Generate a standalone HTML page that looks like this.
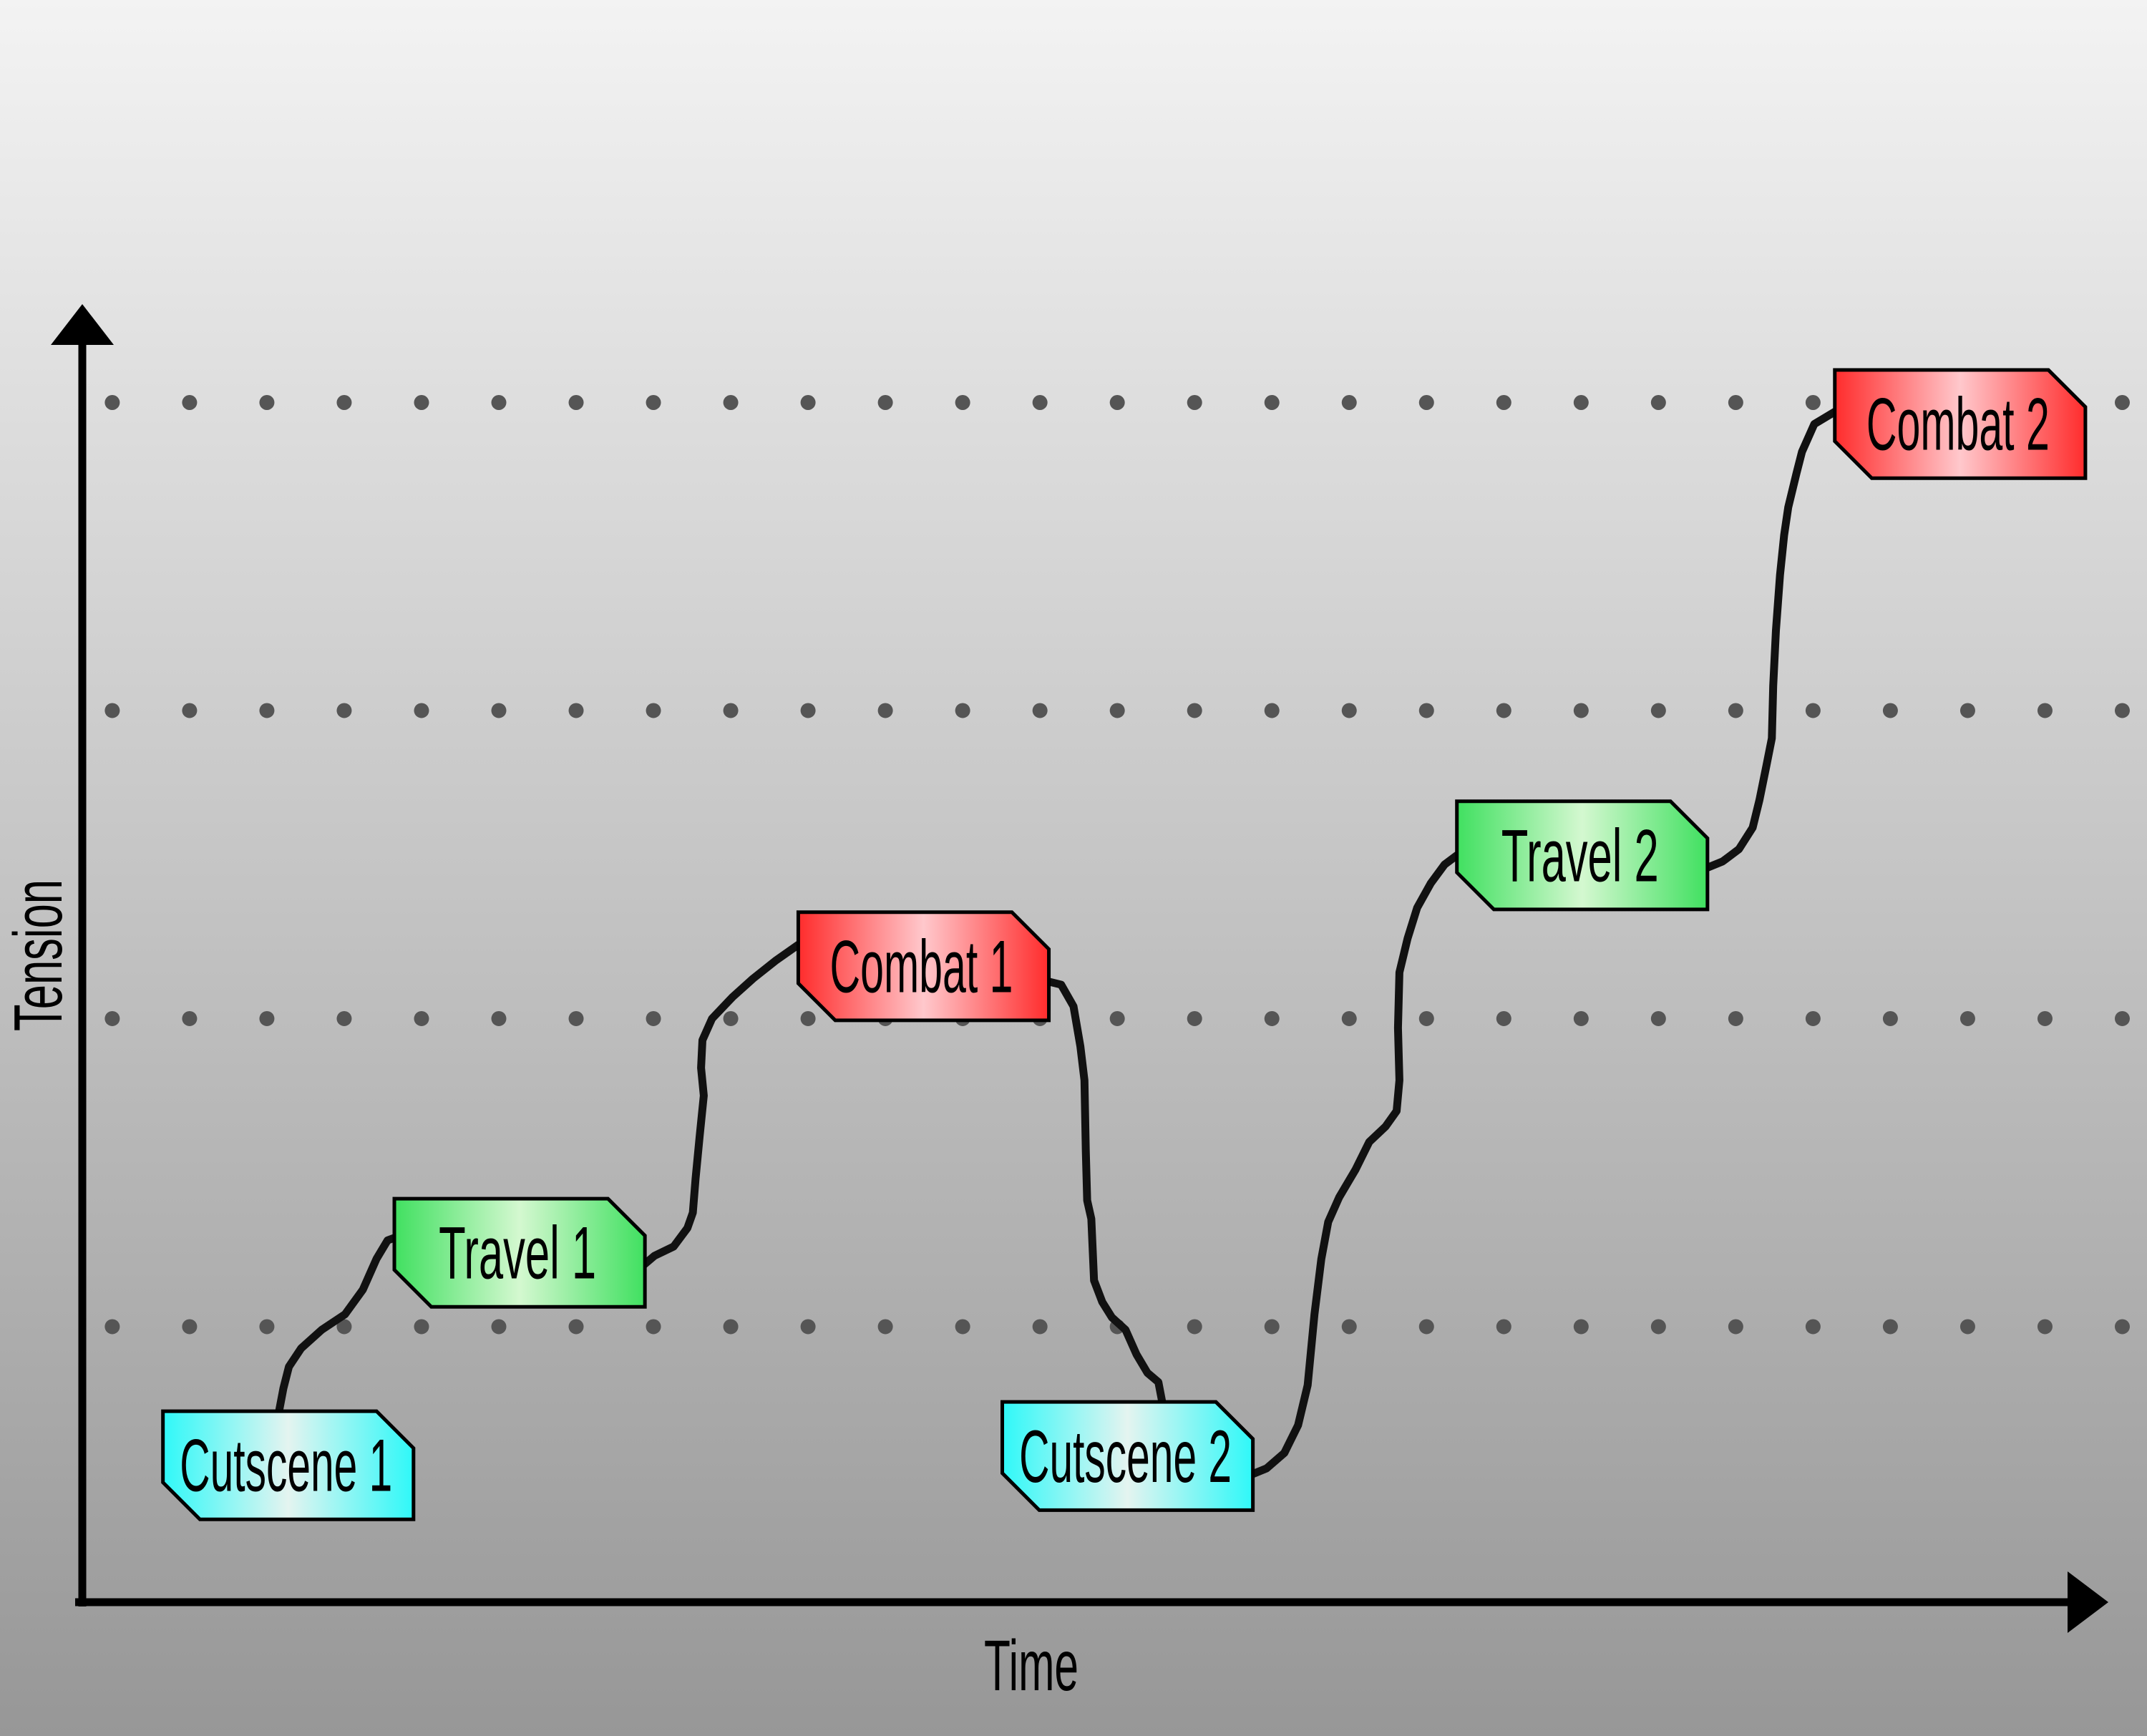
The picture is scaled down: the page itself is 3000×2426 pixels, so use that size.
<!DOCTYPE html>
<html><head><meta charset="utf-8"><style>
html,body{margin:0;padding:0;}
body{width:3000px;height:2426px;background:linear-gradient(#f3f3f3,#979797);overflow:hidden;}
svg{display:block;}
text{font-family:"Liberation Sans Narrow","Liberation Sans",sans-serif;}
</style></head><body>
<svg id="chart" width="3000" height="2426" viewBox="0 0 3000 2426">
<defs>
<linearGradient id="gc" x1="0" x2="1"><stop offset="0" stop-color="#2ff8f8"/><stop offset="0.5" stop-color="#e4f4f0"/><stop offset="1" stop-color="#2ff8f8"/></linearGradient>
<linearGradient id="gt" x1="0" x2="1"><stop offset="0" stop-color="#40e060"/><stop offset="0.5" stop-color="#d4f8d0"/><stop offset="1" stop-color="#40e060"/></linearGradient>
<linearGradient id="gr" x1="0" x2="1"><stop offset="0" stop-color="#ff2c2c"/><stop offset="0.5" stop-color="#ffc8cc"/><stop offset="1" stop-color="#ff2c2c"/></linearGradient>
</defs>
<g id="grid"></g>
<g id="curve"></g>
<g id="stages"></g>
<g>
<line x1="115" y1="470" x2="115" y2="2245" stroke="#000" stroke-width="11"/>
<polygon points="115,425 71,482 159,482" fill="#000"/>
<line x1="105" y1="2239" x2="2895" y2="2239" stroke="#000" stroke-width="11"/>
<polygon points="2946,2239 2889,2196 2889,2282" fill="#000"/>
</g>
<text x="1441" y="2362" font-size="100" text-anchor="middle" textLength="132" lengthAdjust="spacingAndGlyphs">Time</text>
<text transform="translate(86,1335) rotate(-90)" font-size="96" text-anchor="middle" textLength="212" lengthAdjust="spacingAndGlyphs">Tension</text>
</svg>
<script>
// Grid levels (tension units)
const gridLevels = [1, 2, 3, 4];
// Curve segments: time and tension values
const seg1Time = [144,147,151,160,175,192,205,215,223,229];
const seg1Tension = [0.73,0.80,0.87,0.93,0.99,1.04,1.12,1.22,1.28,1.29];
const seg2Time = [410,418,432,442,446,448,451,454,452,453,460,475,490,507,523];
const seg2Tension = [1.20,1.23,1.26,1.32,1.37,1.48,1.62,1.75,1.84,1.93,2.00,2.07,2.13,2.19,2.24];
const seg3Time = [706,715,724,729,732,733,734,737,739,745,752,762,770,778,786,789];
const seg3Tension = [2.12,2.11,2.04,1.91,1.80,1.57,1.41,1.35,1.15,1.08,1.03,0.99,0.91,0.85,0.82,0.75];
const seg4Time = [854,865,878,888,895,900,905,910,918,930,940,952,960,962,961,962,968,975,985,995,1004];
const seg4Tension = [0.52,0.54,0.59,0.68,0.81,1.04,1.22,1.34,1.42,1.51,1.60,1.65,1.70,1.80,1.97,2.15,2.26,2.36,2.44,2.50,2.53];
const seg5Time = [1187,1198,1210,1220,1225,1230,1234,1235,1237,1240,1243,1246,1252,1256,1265,1280];
const seg5Tension = [2.49,2.51,2.55,2.62,2.71,2.82,2.91,3.08,3.26,3.44,3.57,3.66,3.77,3.84,3.93,3.97];
// Stages
const stageNames = ["Cutscene 1","Travel 1","Combat 1","Cutscene 2","Travel 2","Combat 2"];
const stageTypes = ["cutscene","travel","combat","cutscene","travel","combat"];
const stageTime = [59,228,523,672,1004,1280];
const stageTension = [0.55,1.24,2.17,0.58,2.53,3.93];

const S = 3000/1568;
const NS = "http://www.w3.org/2000/svg";
function xScale(t){ return (t+60)*S; }
function yScale(v){ return (969-(v-1)*225)*S; }

const grid = document.getElementById('grid');
gridLevels.forEach(function(lv){
  for(let i=0;i<27;i++){
    const c = document.createElementNS(NS,'circle');
    
    
    c.setAttribute('cx', (82+i*56.46)*S);
    c.setAttribute('cy', yScale(lv));
    c.setAttribute('r', 10.5);
    c.setAttribute('fill', '#555');
    grid.appendChild(c);
  }
});

const curve = document.getElementById('curve');
[[seg1Time,seg1Tension],[seg2Time,seg2Tension],[seg3Time,seg3Tension],[seg4Time,seg4Tension],[seg5Time,seg5Tension]].forEach(function(s,k){
  const d = s[0].map(function(t,i){ return (i?'L':'M')+xScale(t).toFixed(1)+','+yScale(s[1][i]).toFixed(1); }).join(' ');
  const p = document.createElementNS(NS,'path');
  
  
  p.setAttribute('d', d);
  p.setAttribute('fill','none');
  p.setAttribute('stroke','#111');
  p.setAttribute('stroke-width','11');
  p.setAttribute('stroke-linejoin','round');
  p.setAttribute('stroke-linecap','round');
  curve.appendChild(p);
});

const fills = {cutscene:'url(#gc)', travel:'url(#gt)', combat:'url(#gr)'};
const textLens = {cutscene:297, travel:220, combat:256};
const stages = document.getElementById('stages');
const W = 183*S, H = 79*S, C = 27*S;
stageNames.forEach(function(name,i){
  const x = xScale(stageTime[i]), cy = yScale(stageTension[i]), y = cy - H/2;
  const g = document.createElementNS(NS,'g');
  
  
  const poly = document.createElementNS(NS,'polygon');
  
  
  poly.setAttribute('points', [x,y, x+W-C,y, x+W,y+C, x+W,y+H, x+C,y+H, x,y+H-C].join(' '));
  poly.setAttribute('fill', fills[stageTypes[i]]);
  poly.setAttribute('stroke','#000');
  poly.setAttribute('stroke-width','5');
  g.appendChild(poly);
  const tx = document.createElementNS(NS,'text');
  
  
  tx.setAttribute('x', x+W/2-3);
  tx.setAttribute('y', cy+36);
  tx.setAttribute('font-size','104');
  tx.setAttribute('text-anchor','middle');
  tx.setAttribute('textLength', textLens[stageTypes[i]]);
  tx.setAttribute('lengthAdjust','spacingAndGlyphs');
  tx.textContent = name;
  g.appendChild(tx);
  stages.appendChild(g);
});
</script>
</body></html>
